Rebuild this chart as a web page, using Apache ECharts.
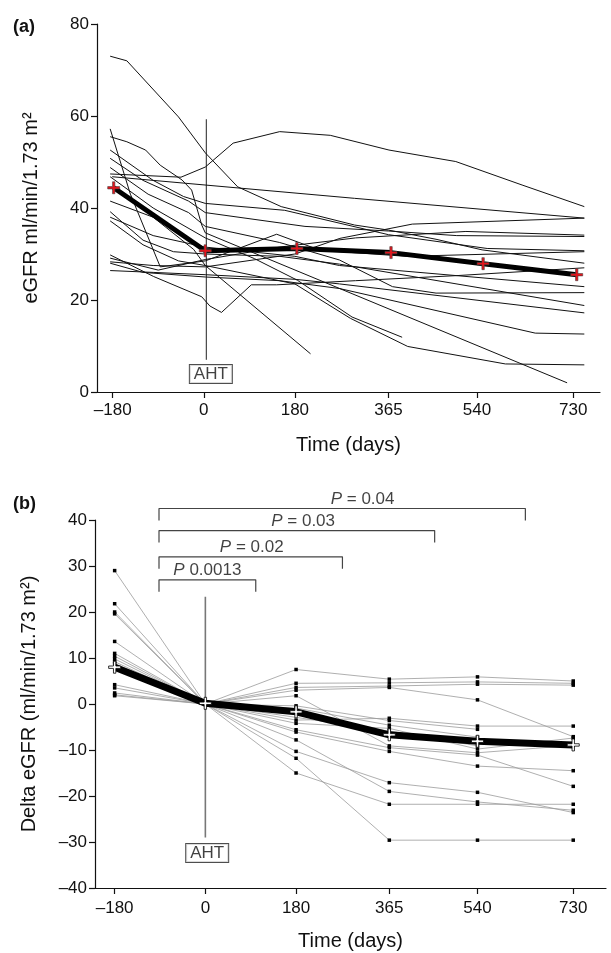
<!DOCTYPE html>
<html lang="en" style="height: 100%">
<head>
    <meta charset="utf-8">
</head>
<body style="height: 100%; margin: 0; background: #fff">
<div id="container" style="width: 611px; height: 953px"></div>

<script src="https://cdn.jsdelivr.net/npm/echarts@6/dist/echarts.min.js"></script>

<script type="text/javascript">
    // tick days shared by both panels
    var dayTicks = [-180, 0, 180, 365, 540, 730];

    // panel (a): eGFR per patient, [day, ml/min/1.73 m2]
    var a01 = [[-185, 73], [-152, 72], [-50, 59.8], [3, 52], [67, 44.6], [153, 40.3], [298, 36.3], [365, 35.2], [459, 33.2], [550, 30.9], [752, 28.0]];
    var a02 = [[-185, 47.4], [-45, 46.7], [3, 48.9], [58, 54.1], [150, 56.6], [250, 55.8], [366, 52.6], [498, 50.1], [629, 45.0], [752, 40.3]];
    var a03 = [[-181, 46.8], [298, 42.1], [752, 37.8]];
    var a04 = [[-185, 57.2], [-145, 43], [-86, 27.2], [3, 28.5], [144, 34.3], [230, 30.8], [400, 29.5], [752, 30.5]];
    var a05 = [[-185, 28.3], [-100, 27.5], [3, 27.2], [180, 30], [269, 33.4], [412, 36.5], [752, 37.8]];
    var a06 = [[-185, 29.1], [-90, 26.5], [3, 28.8], [150, 31.5], [300, 33.5], [518, 34.9], [752, 34.1]];
    var a07 = [[-185, 50.8], [-120, 46], [-30, 41.5], [3, 39], [200, 36], [365, 35], [500, 34], [752, 33.8]];
    var a08 = [[-185, 52.6], [-100, 46], [-40, 42.5], [3, 41], [160, 39.5], [365, 34.2], [560, 31.2], [752, 30.7]];
    var a09 = [[-185, 29.8], [-99, 25.1], [-4, 20.7], [12, 18.7], [35, 17.3], [94, 23.3], [144, 23.3], [300, 24.2], [500, 25.3], [752, 27.0]];
    var a10 = [[-185, 38.0], [-100, 34], [3, 31.5], [180, 29.5], [268, 27.5], [752, 22.9]];
    var a11 = [[-185, 48.8], [-110, 43], [-30, 39], [3, 36], [150, 32.5], [268, 28.7], [373, 22.9], [459, 21.5], [752, 21.6]];
    var a12 = [[-185, 39.2], [-120, 33], [-60, 30.5], [3, 30], [150, 29.5], [268, 27.8], [752, 18.8]];
    var a13 = [[-185, 26.4], [-100, 26], [3, 25.5], [180, 24.5], [268, 23.5], [752, 17.2]];
    var a14 = [[-185, 28.0], [-120, 26], [3, 25], [150, 24.2], [268, 22.5], [655, 12.8], [752, 12.6]];
    var a15 = [[-185, 37.2], [-120, 32], [-50, 28.5], [3, 27.5], [180, 23.5], [290, 16], [403, 9.9], [596, 6.1], [752, 5.9]];
    var a16 = [[-185, 55.5], [-152, 54.4], [-115, 52.6], [-86, 49.3], [-43, 46.1], [-24, 43.9], [-4, 36.3], [3, 34.6], [718, 2.0]];
    var a17 = [[-185, 41.5], [-100, 38], [-20, 31], [3, 27.5], [211, 8.3]];
    var a18 = [[-185, 46.8], [-100, 40], [3, 33.5], [100, 29], [185, 24.3], [293, 16.3], [392, 11.9]];
    var aPatients = [a01, a02, a03, a04, a05, a06, a07, a08, a09, a10, a11, a12, a13, a14, a15, a16, a17, a18];

    var aMeanDays = [-178, 3, 184, 370, 552, 737];
    var aMeanValues = [44.4, 30.7, 31.2, 30.3, 27.9, 25.5];
    var aAhtLine = [[5, 59.3], [5, 7.0]];
    var aAhtBox = [14, 3.9];

    // panel (b): change in eGFR per patient at the tick days (null = no visit)
    var bPatients = [
      [29.0, 0, -11.8, -29.6, -29.6, -29.6],
      [21.8, 0, -15.0, -21.8, -21.8, -21.8],
      [20.0, 0, -10.3, -17.1, -19.2, -23.6],
      [19.6, 0, -7.8, -19.0, -21.3, -23.1],
      [13.6, 0, -6.1, -10.3, -13.5, -14.5],
      [11.0, 0, -5.6, -9.5, -11.1, -17.9],
      [10.4, 0, 1.8, -9.1, -10.6, -9.0],
      [9.8, 0, -3.5, -3.1, -4.8, -4.8],
      [9.2, 0, 7.5, 5.4, 5.9, 5.0],
      [8.8, 0, -4.2, -5.3, -9.8, -7.4],
      [4.2, 0, 4.5, 4.6, 4.8, 4.5],
      [3.5, 0, 3.6, 3.9, 4.3, 4.1],
      [2.4, 0, 3.0, 3.6, 0.9, -7.1],
      [2.0, 0, -0.4, -3.6, -5.5, null],
      [1.8, 0, -0.9, -4.6, -7.2, null],
      [null, 0, null, -5.9, -9.1, null]
    ];
    var bMean = [8.0, 0.15, -1.7, -6.7, -8.1, -8.9];
    var bAhtLine = [[0, 23.3], [0, -29.0]];
    var bAhtBox = [3.6, -32.4];

    // significance brackets in panel (b)
    var pFrom = -92;
    var pTo = [100, 272, 455, 635];
    var pTop = [27.0, 32.0, 37.7, 42.5];
    var pDrop = 2.6;
    var pTextDay = [4, 92, 194, 312];
    var pText = [' 0.0013', ' = 0.02', ' = 0.03', ' = 0.04'];

    var FONT = 'Liberation Sans, Arial, sans-serif';
    var dash = function (v) { return String(v).replace('-', '\u2013'); };
    var plusPath = 'path://M4,0H6V4H10V6H6V10H4V6H0V4H4Z';

    var dom = document.getElementById('container');
    var myChart = echarts.init(dom, null, { renderer: 'canvas' });

    function xAxisFor(gi, min, max, labelGap, nameGap) {
      return {
        type: 'value', gridIndex: gi, min: min, max: max,
        name: 'Time (days)', nameLocation: 'middle', nameGap: nameGap,
        nameTextStyle: { fontFamily: FONT, fontSize: 20, color: '#111' },
        axisLine: { onZero: false, lineStyle: { color: '#111', width: 1.2 } },
        axisTick: { customValues: dayTicks, length: 6, lineStyle: { color: '#111', width: 1.2 } },
        axisLabel: { customValues: dayTicks, formatter: dash, margin: labelGap, fontFamily: FONT, fontSize: 17, color: '#111' },
        splitLine: { show: false }
      };
    }
    function yAxisFor(gi, min, max, step, name, gap) {
      return {
        type: 'value', gridIndex: gi, min: min, max: max, interval: step,
        name: name, nameLocation: 'middle', nameGap: gap,
        nameTextStyle: { fontFamily: FONT, fontSize: 20, color: '#111' },
        axisLine: { show: true, onZero: false, lineStyle: { color: '#111', width: 1.2 } },
        axisTick: { show: true, length: 6, lineStyle: { color: '#111', width: 1.2 } },
        axisLabel: { formatter: dash, margin: 8, fontFamily: FONT, fontSize: 17, color: '#111' },
        splitLine: { show: false }
      };
    }

    var series = [];
    aPatients.forEach(function (pts) {
      series.push({
        type: 'line', xAxisIndex: 0, yAxisIndex: 0, data: pts, symbol: 'none',
        lineStyle: { color: '#111', width: 1 }, z: 2, silent: true
      });
    });
    series.push({
      type: 'line', xAxisIndex: 0, yAxisIndex: 0, data: aAhtLine, symbol: 'none',
      lineStyle: { color: '#222', width: 1 }, z: 1
    });
    series.push({
      type: 'line', xAxisIndex: 0, yAxisIndex: 0, symbol: plusPath, symbolSize: 12,
      data: aMeanDays.map(function (d, i) { return [d, aMeanValues[i]]; }),
      lineStyle: { color: '#000', width: 5 },
      itemStyle: { color: '#e3141b', borderColor: '#444', borderWidth: 0.6 }, z: 6
    });

    bPatients.forEach(function (row) {
      series.push({
        type: 'line', xAxisIndex: 1, yAxisIndex: 1, connectNulls: true,
        data: dayTicks.map(function (d, i) { return [d, row[i]]; }),
        symbol: 'rect', symbolSize: 3.5, showAllSymbol: true,
        lineStyle: { color: '#9a9a9a', width: 0.8 },
        itemStyle: { color: '#000' }, z: 2
      });
    });
    series.push({
      type: 'line', xAxisIndex: 1, yAxisIndex: 1, data: bAhtLine, symbol: 'none',
      lineStyle: { color: '#777', width: 1.6 }, z: 1
    });
    series.push({
      type: 'line', xAxisIndex: 1, yAxisIndex: 1, symbol: plusPath, symbolSize: 12,
      data: dayTicks.map(function (d, i) { return [d, bMean[i]]; }),
      lineStyle: { color: '#000', width: 7 },
      itemStyle: { color: '#fff', borderColor: '#000', borderWidth: 0.8 }, z: 6
    });

    pTo.forEach(function (to, i) {
      series.push({
        type: 'line', xAxisIndex: 1, yAxisIndex: 1, symbol: 'none', clip: false,
        data: [[pFrom, pTop[i] - pDrop], [pFrom, pTop[i]], [to, pTop[i]], [to, pTop[i] - pDrop]],
        lineStyle: { color: '#444', width: 1.2 }, z: 3
      });
      series.push({
        type: 'scatter', xAxisIndex: 1, yAxisIndex: 1, symbolSize: 0, clip: false,
        data: [[pTextDay[i], pTop[i]]],
        label: {
          show: true, position: 'top', distance: 1,
          formatter: '{i|P}' + pText[i],
          fontFamily: FONT, fontSize: 17, color: '#111',
          rich: { i: { fontStyle: 'italic', fontFamily: FONT, fontSize: 17, color: '#111' } }
        }
      });
    });

    [[0, aAhtBox], [1, bAhtBox]].forEach(function (b) {
      series.push({
        type: 'scatter', xAxisIndex: b[0], yAxisIndex: b[0], symbolSize: 0,
        data: [b[1]], z: 8,
        label: {
          show: true, position: 'inside', formatter: 'AHT',
          fontFamily: FONT, fontSize: 17, color: '#111',
          backgroundColor: '#fff', borderColor: '#222', borderWidth: 1, padding: [1, 4, 0, 4]
        }
      });
    });

    var option = {
      animation: false,
      backgroundColor: '#fff',
      title: [
        { text: '(a)', left: 8, top: 13, textStyle: { fontFamily: FONT, fontSize: 18, fontWeight: 'bold', color: '#111' } },
        { text: '(b)', left: 8, top: 490, textStyle: { fontFamily: FONT, fontSize: 18, fontWeight: 'bold', color: '#111' } }
      ],
      grid: [
        { left: 97, top: 24, width: 503, height: 368, outerBoundsMode: 'none' },
        { left: 95, top: 520, width: 511, height: 368, outerBoundsMode: 'none' }
      ],
      xAxis: [xAxisFor(0, -211, 783, 10, 43), xAxisFor(1, -219, 795, 12, 43)],
      yAxis: [
        yAxisFor(0, 0, 80, 20, 'eGFR ml/min/1.73 m\u00b2', 56),
        yAxisFor(1, -40, 40, 10, 'Delta eGFR (ml/min/1.73 m\u00b2)', 56)
      ],
      series: series
    };

    myChart.setOption(option);
    window.addEventListener('resize', myChart.resize);
</script>
</body>
</html>
